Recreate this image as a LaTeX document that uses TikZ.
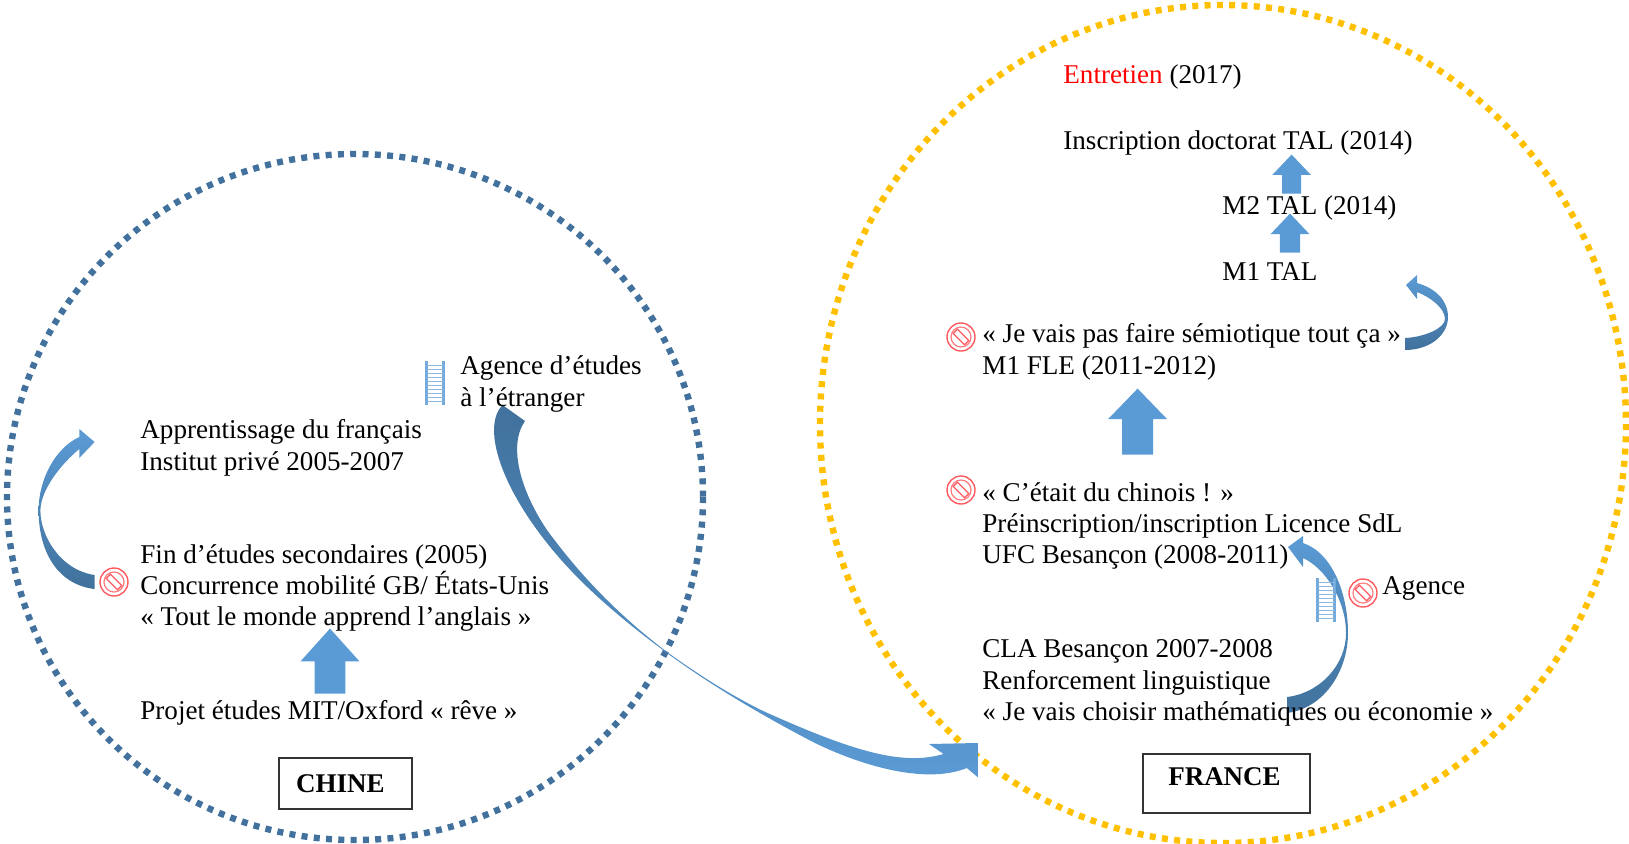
\documentclass[tikz,border=0pt]{standalone}
\usepackage{fontspec}
\setmainfont{Liberation Serif}
\usepackage{tikz}
\usetikzlibrary{shapes.arrows}

\definecolor{bluedot}{HTML}{41719C}
\definecolor{yellowdot}{HTML}{FFC000}
\definecolor{arrowblue}{HTML}{5B9BD5}
\definecolor{arrowdark}{HTML}{41719C}
\definecolor{stopred}{HTML}{FF5A5F}

\tikzset{
	txt/.style={anchor=west, align=left, inner sep=0pt, font=\fontsize{13.55}{15.7}\selectfont},
	namebox/.style={draw=black!80, line width=0.6pt, inner sep=0pt, font=\fontsize{13.5}{15}\selectfont\bfseries},
	upblock/.style={single arrow, shape border rotate=90, fill=arrowblue, anchor=tip},
	curveup/.style={top color=arrowblue, bottom color=arrowdark, draw=none},
	curvedown/.style={top color=arrowdark, bottom color=arrowblue, draw=none},
	ladder/.pic={
		\draw[arrowblue!85, line width=1.4pt] (-8.5,-22) -- (-8.5,22) (8.5,-22) -- (8.5,22);
		\foreach \r in {-18,-14,...,18}
			\draw[arrowblue!70, line width=0.5pt] (-8.5,\r) -- (8.5,\r);
	},
	stopsign/.pic={
		\draw[stopred, line width=0.7pt] (0,0) circle (14);
		\draw[stopred!80, line width=0.6pt] (0,0) circle (10);
		\draw[stopred, line width=0.6pt, rotate=-45] (-8,-3) rectangle (8,3);
	}
}

\begin{document}
\begin{tikzpicture}[x=0.5pt, y=-0.5pt]
\useasboundingbox (0,0) rectangle (1629,843);

%% Countries
\draw[bluedot, line width=3.2pt, dash pattern=on 3pt off 3.15pt] (355,497) ellipse [x radius=348, y radius=343];
\draw[yellowdot, line width=3.2pt, dash pattern=on 3pt off 3.15pt] (1223,424) ellipse [x radius=403, y radius=419];

%% Ends of the curved arrows
\coordinate (etudeTailA) at (502.5,405);
\coordinate (etudeTailB) at (525,421);
\coordinate (etudeTip) at (977.5,743);
\coordinate (frTailA) at (94.6,575);
\coordinate (frTailB) at (94.6,589);
\coordinate (frTip) at (94.6,442);
\coordinate (ufcTailA) at (1287,697);
\coordinate (ufcTailB) at (1287,713);
\coordinate (ufcTip) at (1288,547);
\coordinate (talTailA) at (1405,338);
\coordinate (talTailB) at (1405,350);
\coordinate (talTip) at (1406,285);

\path[curvedown] (etudeTailA) .. controls (483,425) and (497,480) .. (547,543)
	.. controls (580,585) and (625,622) .. (667,653)
	.. controls (720,692) and (780,725) .. (815,743)
	.. controls (860,765) and (925,785) .. (966.8,768)
	-- (977.5,777) -- (etudeTip) -- (929,744) -- (943.6,754)
	.. controls (905,765) and (860,755) .. (761,710)
	.. controls (725,692) and (695,672) .. (667,652)
	.. controls (625,620) and (585,582) .. (547,530)
	.. controls (520,490) and (508,445) .. (etudeTailB) -- cycle;

\path[curveup] (frTailA) .. controls (60,570) and (40,535) .. (40.4,510)
	.. controls (41,490) and (60,465) .. (79.3,449)
	-- (79.3,458) -- (frTip) -- (79.3,429) -- (79.3,437)
	.. controls (55,448) and (38.6,480) .. (38.6,510)
	.. controls (38.6,555) and (60,585) .. (frTailB) -- cycle;

\path[curveup] (ufcTailB) .. controls (1325,708) and (1348,670) .. (1348,633)
	.. controls (1348,595) and (1333,553) .. (1303,543)
	-- (1303,536) -- (ufcTip) -- (1303,567) -- (1303,558)
	.. controls (1325,568) and (1346,600) .. (1346,633)
	.. controls (1346,665) and (1320,693) .. (ufcTailA) -- cycle;

\path[curveup] (talTailB) .. controls (1430,350) and (1448,335) .. (1448,317)
	.. controls (1448,300) and (1435,288) .. (1417,283)
	-- (1417,275) -- (talTip) -- (1417,299) -- (1417,292)
	.. controls (1430,297) and (1445,308) .. (1445,319)
	.. controls (1445,328) and (1425,337) .. (talTailA) -- cycle;

%% Straight arrows
\node[upblock, inner sep=7.5pt, minimum width=28.8pt, minimum height=32.5pt, single arrow head extend=7pt, single arrow tip angle=84] (rise1) at (330,628) {};
\node[upblock, inner sep=7.5pt, minimum width=29pt, minimum height=33pt, single arrow head extend=7pt, single arrow tip angle=88] (rise2) at (1137.6,388) {};
\node[upblock, inner sep=4.9pt, minimum width=19pt, minimum height=19.5pt, single arrow head extend=4.6pt, single arrow tip angle=87] (rise3) at (1290,213) {};
\node[upblock, inner sep=4.6pt, minimum width=19pt, minimum height=19.5pt, single arrow head extend=4.8pt, single arrow tip angle=87] (rise4) at (1291.6,154) {};

%% Icons
\pic at (435,383) {ladder};
\pic at (1326,600) {ladder};
\pic at (114,582) {stopsign};
\pic at (961,490) {stopsign};
\pic at (1363,593) {stopsign};
\pic at (961,337) {stopsign};

%% Texts in China
\node[txt] (agence) at (460,384) {Agence d’études\\à l’étranger};
\node[txt] (apprentissage) at (140,448) {Apprentissage du français\\Institut privé 2005-2007};
\node[txt] (fin) at (140,588) {Fin d’études secondaires (2005)\\Concurrence mobilité GB/ États-Unis\\« Tout le monde apprend l’anglais »};
\node[txt] (projet) at (140,713) {Projet études MIT/Oxford « rêve »};
\node[namebox, minimum width=66.5pt, minimum height=25.5pt] (chine) at (345.5,783.5) {\hspace*{-5pt}CHINE};

%% Texts in France
\node[txt] (entretien) at (1063,77) {\textcolor{red}{Entretien} (2017)};
\node[txt] (doctorat) at (1063,143) {Inscription doctorat TAL (2014)};
\node[txt] (m2) at (1222,208) {M2 TAL (2014)};
\node[txt] (m1) at (1222,272) {M1 TAL};
\node[txt] (fle) at (982,352) {« Je vais pas faire sémiotique tout ça »\\M1 FLE (2011-2012)};
\node[txt] (licence) at (982,526) {« C’était du chinois ! »\\Préinscription/inscription Licence SdL\\UFC Besançon (2008-2011)};
\node[txt] (agence2) at (1382,588) {Agence};
\node[txt] (cla) at (982,683) {CLA Besançon 2007-2008\\Renforcement linguistique\\« Je vais choisir mathématiques ou économie »};
\node[namebox, minimum width=83.5pt, minimum height=29.5pt] (france) at (1226.5,783.5) {\raisebox{7pt}{\hspace*{-2pt}FRANCE}};
\end{tikzpicture}
\end{document}
